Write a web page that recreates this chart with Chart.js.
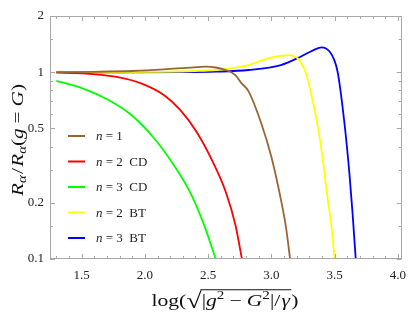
<!DOCTYPE html>
<html><head><meta charset="utf-8">
<script src="https://cdn.jsdelivr.net/npm/chart.js@4"></script>
<style>html,body{margin:0;padding:0;background:#fff}</style>
</head><body>
<canvas id="c" width="415" height="312"></canvas>
<script>
// ---- data ----
const labels = ['n = 1', 'n = 2  CD', 'n = 3  CD', 'n = 2  BT', 'n = 3  BT'];
const n1X  = [1.30, 1.60, 1.90, 2.15, 2.35, 2.48, 2.56, 2.64, 2.716, 2.76, 2.82, 2.92, 3.00, 3.06, 3.115, 3.15];
const n1Y  = [1.000, 1.005, 1.015, 1.035, 1.058, 1.071, 1.06, 1.028, 0.965, 0.88, 0.79, 0.533, 0.353, 0.234, 0.149, 0.098];
const n2cdX = [1.30, 1.507, 1.765, 1.97, 2.15, 2.279, 2.407, 2.536, 2.639, 2.716, 2.77];
const n2cdY = [0.995, 0.987, 0.947, 0.872, 0.755, 0.628, 0.481, 0.332, 0.229, 0.152, 0.098];
const n3cdX = [1.30, 1.507, 1.713, 1.893, 2.073, 2.228, 2.356, 2.459, 2.565];
const n3cdY = [0.898, 0.820, 0.710, 0.590, 0.443, 0.319, 0.229, 0.158, 0.098];
const n2btX = [1.30, 1.70, 2.10, 2.40, 2.562, 2.70, 2.819, 2.973, 3.08, 3.14, 3.20, 3.231, 3.27, 3.308, 3.385, 3.436, 3.475, 3.502];
const n2btY = [1.000, 1.000, 1.005, 1.015, 1.028, 1.055, 1.093, 1.187, 1.225, 1.236, 1.20, 1.139, 1.00, 0.803, 0.434, 0.234, 0.149, 0.098];
const n3btX = [1.30, 1.80, 2.30, 2.562, 2.819, 3.076, 3.231, 3.33, 3.398, 3.462, 3.50, 3.526, 3.578, 3.617, 3.642, 3.668];
const n3btY = [1.000, 0.998, 1.000, 1.007, 1.028, 1.093, 1.211, 1.31, 1.360, 1.288, 1.15, 0.99, 0.533, 0.288, 0.176, 0.098];
const xTickVals = [1.5, 2.0, 2.5, 3.0, 3.5, 4.0];
const xMinorVals = [1.3,1.4,1.6,1.7,1.8,1.9,2.1,2.2,2.3,2.4,2.6,2.7,2.8,2.9,3.1,3.2,3.3,3.4,3.6,3.7,3.8,3.9];
const yTickVals = [0.1, 0.2, 0.5, 1, 2];
const yMinorVals = [0.15, 0.3, 0.4, 0.6, 0.7, 0.8, 0.9, 1.5];

const colors = ['#996633', '#ff0000', '#00ff00', '#ffff00', '#0000ff'];
const xs = [n1X, n2cdX, n3cdX, n2btX, n3btX];
const ys = [n1Y, n2cdY, n3cdY, n2btY, n3btY];

const SERIF = '"Liberation Serif", "DejaVu Serif", serif';

function partSize(p, size) {
  if (p.big) return size * 1.3;
  return (p.sup || p.sub) ? size * 0.7 : size;
}
function richWidth(ctx, parts, size) {
  let w = 0;
  for (const p of parts) {
    const s = partSize(p, size);
    ctx.font = (p.it ? 'italic ' : '') + s + 'px ' + SERIF;
    p._w = ctx.measureText(p.t).width + (p.gap || 0);
    p._s = s;
    w += p._w;
  }
  return w;
}
function drawRich(ctx, parts, cx, cy, size, target) {
  const w = richWidth(ctx, parts, size);
  const k = target ? target / w : 1;
  ctx.save();
  ctx.translate(cx, cy);
  ctx.scale(k, 1);
  let x = -w / 2;
  ctx.textBaseline = 'alphabetic';
  ctx.textAlign = 'left';
  const base = size * 0.33;
  let ovStart = null, ovEnd = null;
  for (const p of parts) {
    ctx.font = (p.it ? 'italic ' : '') + p._s + 'px ' + SERIF;
    let yy = base;
    if (p.sup) yy = base - size * 0.4;
    if (p.sub) yy = base + size * 0.22;
    if (p.big) yy = base + size * 0.12;
    ctx.fillText(p.t, x + (p.gap || 0) / 2, yy);
    if (p.ov) { if (ovStart === null) ovStart = x; ovEnd = x + p._w; }
    x += p._w;
  }
  if (ovStart !== null) {
    ctx.beginPath();
    ctx.lineWidth = 0.9;
    ctx.moveTo(ovStart - 1, base - size * 0.93);
    ctx.lineTo(ovEnd, base - size * 0.93);
    ctx.stroke();
  }
  ctx.restore();
}
function drawRichLeft(ctx, parts, x, cy, size) {
  const w = richWidth(ctx, parts, size);
  drawRich(ctx, parts, x + w / 2, cy, size);
}

const framePlugin = {
  id: 'frame',
  afterDraw(chart) {
    const ctx = chart.ctx, a = chart.chartArea;
    const sx = chart.scales.x, sy = chart.scales.y;
    ctx.save();
    ctx.strokeStyle = '#a8a8a8';
    ctx.lineWidth = 1;
    ctx.strokeRect(Math.round(a.left) + 0.5, Math.round(a.top) + 0.5, Math.round(a.right - a.left) - 1, Math.round(a.bottom - a.top) - 1);
    ctx.beginPath();
    const tick = (v, len, axis) => {
      if (axis === 'x') {
        const p = Math.round(sx.getPixelForValue(v)) + 0.5;
        ctx.moveTo(p, a.bottom); ctx.lineTo(p, a.bottom - len);
        ctx.moveTo(p, a.top); ctx.lineTo(p, a.top + len);
      } else {
        const p = Math.round(sy.getPixelForValue(v)) + 0.5;
        ctx.moveTo(a.left, p); ctx.lineTo(a.left + len, p);
        ctx.moveTo(a.right, p); ctx.lineTo(a.right - len, p);
      }
    };
    xTickVals.forEach(v => tick(v, 5, 'x'));
    xMinorVals.forEach(v => tick(v, 3, 'x'));
    yTickVals.forEach(v => tick(v, 5, 'y'));
    yMinorVals.forEach(v => tick(v, 3, 'y'));
    ctx.stroke();

    // legend
    const ly0 = 136, ldy = 25.5;
    chart.data.datasets.forEach((ds, i) => {
      const y = ly0 + i * ldy;
      ctx.strokeStyle = ds.borderColor;
      ctx.lineWidth = 2;
      ctx.beginPath();
      ctx.moveTo(68, y); ctx.lineTo(85, y);
      ctx.stroke();
      ctx.fillStyle = '#222';
      const t = ds.label;
      drawRichLeft(ctx, [{t: t[0], it: 1}, {t: t.slice(1)}], 96, y, 13);
    });

    // axis titles
    ctx.fillStyle = '#111';
    ctx.strokeStyle = '#111';
    drawRich(ctx, [{t:'log('},{t:'\u221A',big:1},{t:'|',ov:1},{t:'g',it:1,ov:1},{t:'2',sup:1,ov:1},{t:'\u2212',ov:1,gap:8},{t:'G',it:1,ov:1},{t:'2',sup:1,ov:1},{t:'|/',ov:1},{t:'\u03B3',it:1,ov:1,gap:2},{t:')'}], 225, 300, 17, 147);
    ctx.save();
    ctx.translate(17, 140);
    ctx.rotate(-Math.PI / 2);
    drawRich(ctx, [{t:'R',it:1},{t:'\u03B1',it:1,sub:1},{t:'/',gap:2},{t:'R',it:1},{t:'\u03B1',it:1,sub:1},{t:'('},{t:'g',it:1},{t:'=',gap:8},{t:'G',it:1},{t:')'}], 0, 0, 17, 112);
    ctx.restore();
    ctx.restore();
  }
};

new Chart(document.getElementById('c'), {
  type: 'line',
  data: {
    datasets: labels.map((lab, i) => ({
      label: lab,
      data: xs[i].map((x, k) => ({x: x, y: ys[i][k]})),
      borderColor: colors[i],
      borderWidth: 1.8,
      pointRadius: 0,
      fill: false,
      cubicInterpolationMode: 'monotone'
    }))
  },
  options: {
    responsive: false,
    animation: false,
    devicePixelRatio: 1,
    layout: {padding: {top: 16, right: 4, left: 0, bottom: 0}},
    plugins: {legend: {display: false}, tooltip: {enabled: false}},
    scales: {
      x: {
        type: 'linear', min: 1.25, max: 4.03,
        afterBuildTicks: s => { s.ticks = xTickVals.map(v => ({value: v})); },
        afterFit: s => { s.height = 53; },
        grid: {display: false, drawTicks: false},
        border: {display: false},
        ticks: {padding: 9, color: '#222', font: {family: SERIF, size: 13},
                maxRotation: 0, autoSkip: false, callback: v => Number(v).toFixed(1)}
      },
      y: {
        type: 'logarithmic', min: 0.1, max: 2,
        afterBuildTicks: s => { s.ticks = yTickVals.map(v => ({value: v})); },
        afterFit: s => { s.width = 50; },
        grid: {display: false, drawTicks: false},
        border: {display: false},
        ticks: {padding: 6, color: '#222', font: {family: SERIF, size: 13},
                autoSkip: false, callback: v => String(v)}
      }
    }
  },
  plugins: [framePlugin]
});
</script>
</body></html>
